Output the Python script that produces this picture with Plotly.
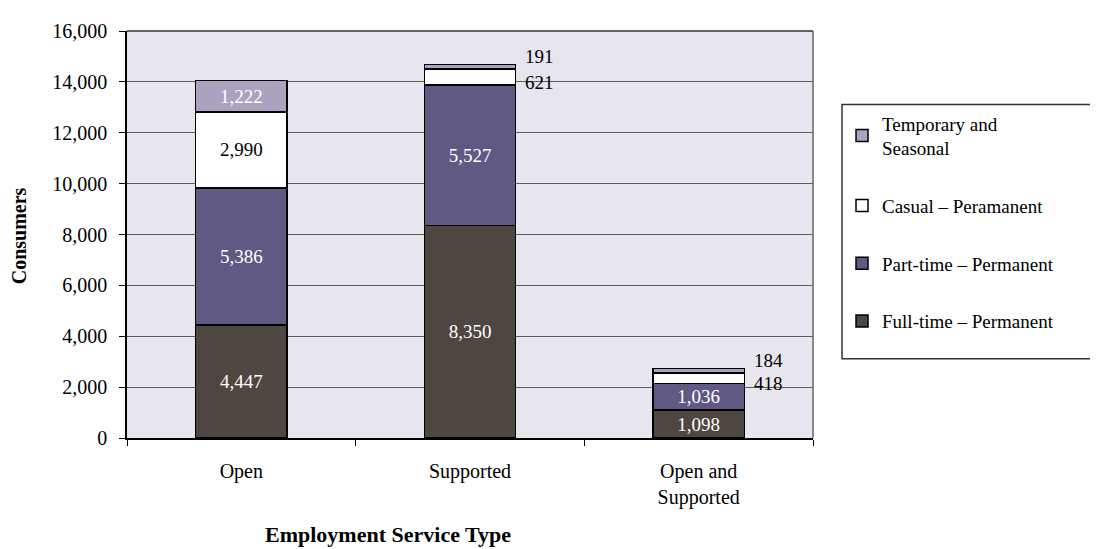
import plotly.graph_objects as go

categories = ["Open", "Supported", "Open and<br>Supported"]
full_time = [4447, 8350, 1098]
part_time = [5386, 5527, 1036]
casual = [2990, 621, 418]
temporary = [1222, 191, 184]

series_names = ["Full-time – Permanent", "Part-time – Permanent",
                "Casual – Peramanent", "Temporary and<br>Seasonal"]
colors = ["#4e4641", "#5f5983", "#ffffff", "#aaa2be"]
label_colors = ["white", "white", "black", "white"]
legend_ranks = [4, 3, 2, 1]
# which segments carry their value label inside the bar
inside_flags = [[True, True, True], [True, True, True],
                [True, False, False], [True, False, False]]

FONT = "Liberation Serif"
fig = go.Figure()
all_series = [full_time, part_time, casual, temporary]
for i, (vals, name) in enumerate(zip(all_series, series_names)):
    texts = [f"{v:,}" if inside_flags[i][j] else "" for j, v in enumerate(vals)]
    fig.add_trace(go.Bar(
        x=categories, y=vals, name=name,
        marker=dict(color=colors[i], line=dict(color="black", width=1.5)),
        text=texts, textposition="inside", insidetextanchor="middle",
        textangle=0, constraintext="none",
        textfont=dict(family=FONT, size=19, color=label_colors[i]),
        legendgroup=str(i), legendrank=legend_ranks[i], hoverinfo="skip",
    ))

# outside labels for thin segments
annotations = []
for j, cat in enumerate(categories):
    if inside_flags[2][j]:
        continue
    base_c = full_time[j] + part_time[j]
    total = base_c + casual[j] + temporary[j]
    annotations.append(dict(x=cat, y=total, text=f"{temporary[j]:,}", xref="x", yref="y",
                            xanchor="left", yanchor="middle", xshift=53, yshift=8,
                            showarrow=False, font=dict(family=FONT, size=19, color="black")))
    annotations.append(dict(x=cat, y=base_c + casual[j] / 2, text=f"{casual[j]:,}", xref="x", yref="y",
                            xanchor="left", yanchor="middle", xshift=53, yshift=-5,
                            showarrow=False, font=dict(family=FONT, size=19, color="black")))

annotations.append(dict(x=-0.1575, y=0.498, xref="paper", yref="paper", text="<b>Consumers</b>",
                        textangle=-90, showarrow=False, xanchor="center", yanchor="middle",
                        font=dict(family=FONT, size=20, color="black")))
annotations.append(dict(x=0.38, y=-0.236, xref="paper", yref="paper", text="<b>Employment Service Type</b>",
                        showarrow=False, xanchor="center", yanchor="middle",
                        font=dict(family=FONT, size=22, color="black")))

fig.update_layout(
    width=1090, height=541,
    margin=dict(l=119, r=285, t=14, b=111),
    barmode="stack", bargap=0.6,
    plot_bgcolor="#e7e5ee", paper_bgcolor="white",
    font=dict(family=FONT, size=19, color="black"),
    annotations=annotations,
    showlegend=True,
    legend=dict(x=1.0423, xanchor="left", y=0.82, yanchor="top",
                traceorder="grouped", tracegroupgap=30,
                bgcolor="rgba(0,0,0,0)", borderwidth=0,
                font=dict(family=FONT, size=19, color="black")),
    shapes=[dict(type="rect", xref="paper", yref="paper", x0=1.0423, x1=1.4125, y0=0.1947, y1=0.8197,
                 line=dict(color="#333333", width=1.5), fillcolor="rgba(0,0,0,0)")],
)
fig.update_yaxes(range=[0, 16000], dtick=2000, tickformat=",", ticks="outside", ticklen=6,
                 tickcolor="black", showline=True, linecolor="black", linewidth=1.5, mirror=False,
                 showgrid=True, gridcolor="#5c5c5c", gridwidth=1, zeroline=False,
                 ticklabelstandoff=8, tickfont=dict(family=FONT, size=20))
fig.update_xaxes(ticks="outside", tickson="boundaries", ticklen=6, tickcolor="black",
                 showline=True, linecolor="black", linewidth=1.5, ticklabelstandoff=14,
                 tickfont=dict(family=FONT, size=20))
# right and top border of the plot area
fig.add_shape(type="line", xref="paper", yref="paper", x0=1, x1=1, y0=0, y1=1,
              line=dict(color="#666666", width=1.5))
fig.add_shape(type="line", xref="paper", yref="paper", x0=0, x1=1, y0=1, y1=1,
              line=dict(color="#333333", width=1.5))

fig.write_html("out.html")
